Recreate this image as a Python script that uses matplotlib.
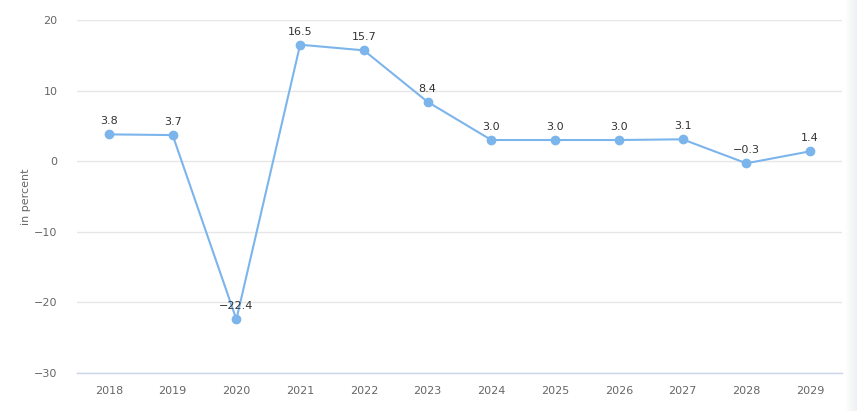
import matplotlib
matplotlib.use("Agg")
import matplotlib.pyplot as plt
import numpy as np

years = ["2018", "2019", "2020", "2021", "2022", "2023", "2024", "2025", "2026", "2027", "2028", "2029"]
values = [3.8, 3.7, -22.4, 16.5, 15.7, 8.4, 3.0, 3.0, 3.0, 3.1, -0.3, 1.4]
yticks = [-30, -20, -10, 0, 10, 20]

plt.rcParams['font.family'] = ['DejaVu Sans']

fig = plt.figure(figsize=(8.57, 4.11), dpi=100)
ax = fig.add_axes([77/857, 38/411, (842-77)/857, (373-20)/411])

x = np.arange(len(years))
ax.plot(x, values, color="#7cb5ec", lw=1.5, marker="o", ms=6, zorder=3, clip_on=False)

for xi, v in zip(x, values):
    s = f"{v:.1f}".replace("-", "\u2212")
    ax.annotate(s, (xi, v), xytext=(0, 8), textcoords="offset pixels", ha="center", va="bottom",
                fontsize=8, color="#333333", zorder=4)

ax.set_xlim(-0.5, len(years) - 0.5)
ax.set_ylim(-30, 20)
ax.set_yticks(yticks)
ax.set_yticklabels([str(t).replace("-", "\u2212") for t in yticks])
ax.set_xticks(x)
ax.set_xticklabels(years)

ax.grid(axis="y", color="#e6e6e6", lw=1)
ax.set_axisbelow(True)
for side in ["top", "right", "left"]:
    ax.spines[side].set_visible(False)
ax.spines["bottom"].set_color("#ccd6eb")
ax.spines["bottom"].set_linewidth(1)
ax.tick_params(axis="both", length=0, labelsize=8, labelcolor="#666666")
ax.tick_params(axis="x", pad=9)
ax.tick_params(axis="y", pad=14)
ax.set_ylabel("in percent", fontsize=8, color="#666666", labelpad=2)

# right-edge shadow
sax = fig.add_axes([845/857, 0, 12/857, 1])
grad = np.linspace(0, 1, 50)[None, :]
sax.imshow(grad, aspect="auto", cmap=matplotlib.colors.LinearSegmentedColormap.from_list("g", ["#ffffff", "#eef0f3"]),
           extent=[0, 1, 0, 1])
sax.axis("off")

fig.savefig("out.png", dpi=100)
